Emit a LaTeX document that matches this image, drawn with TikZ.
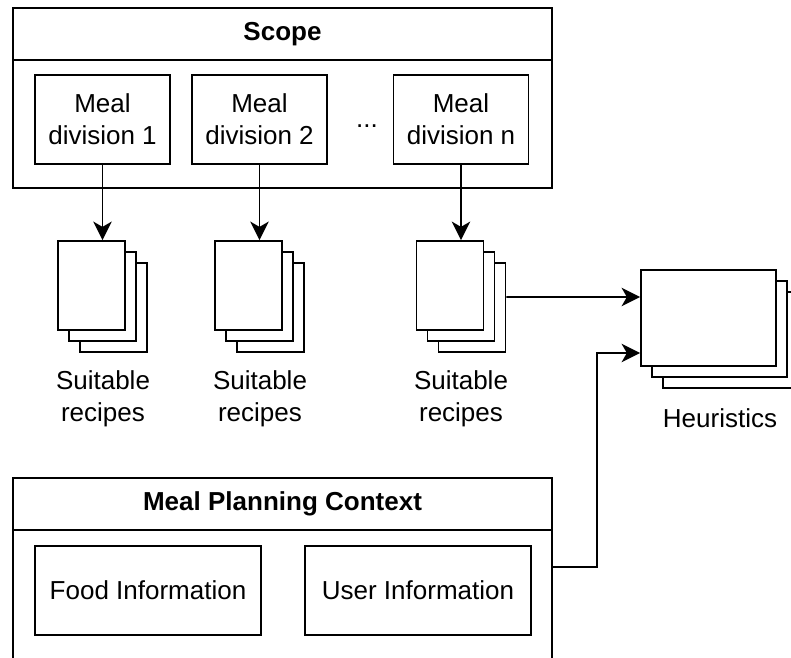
\documentclass[tikz,border=0pt]{standalone}
\usepackage{fontspec}
\setmainfont{Liberation Sans}
\usetikzlibrary{arrows.meta,shadows}

\begin{document}
\begin{tikzpicture}[x=0.02cm,y=-0.02cm,line width=1.1pt,
        every node/.style={font=\fontsize{14.8}{18.2}\selectfont},
        box/.style={draw,fill=white,align=center,inner sep=0pt},
        head/.style={box,minimum width=10.78cm,minimum height=1.04cm,font=\fontsize{14.8}{18.2}\selectfont\bfseries},
        body/.style={box,minimum width=10.78cm,minimum height=2.56cm},
        meal/.style={box,minimum width=2.7cm,minimum height=1.78cm},
        info/.style={box,minimum width=4.52cm,minimum height=1.78cm},
        stack/.style={box,
            copy shadow={shadow xshift=0.44cm,shadow yshift=-0.44cm,line width=1.1pt},
            copy shadow={shadow xshift=0.22cm,shadow yshift=-0.22cm,line width=1.1pt}},
        page/.style={stack,minimum width=1.34cm,minimum height=1.78cm},
        flow/.style={-{Stealth[length=10.5pt,width=10.5pt,inset=3pt]}}]
    \useasboundingbox (0,0) rectangle (791,657);

    \node[head] (scopehead) at (282.5,34) {Scope};
    \node[body] (scope) at (282.5,124) {};
    \node[meal] (div1) at (102.5,119.5) {Meal\\division 1};
    \node[meal] (div2) at (259.5,119.5) {Meal\\division 2};
    \node (dots) at (367,126) {...};
    \node[meal] (divn) at (461,119.5) {Meal\\division n};

    \node[page] (rec1) at (91.5,285.5) {};
    \node[page] (rec2) at (248.5,285.5) {};
    \node[page] (recn) at (450,285.5) {};
    \node[align=center] (lab1) at (103,399) {Suitable\\recipes};
    \node[align=center] (lab2) at (260,399) {Suitable\\recipes};
    \node[align=center] (labn) at (461,399) {Suitable\\recipes};

    \node[stack,minimum width=2.7cm,minimum height=1.92cm] (heur) at (708.5,318) {};
    \node (heurlab) at (720,418) {Heuristics};

    \node[head] (ctxhead) at (282.5,504) {Meal Planning Context};
    \node[body,minimum height=2.64cm] (ctx) at (282.5,596) {};
    \node[info] (food) at (148,590.5) {Food Information};
    \node[info] (user) at (418,590.5) {User Information};

    \coordinate (recout) at ([shift={(0.44cm,-0.23cm)}]recn.east);
    \coordinate (ctxout) at ([yshift=0.58cm]ctx.east);
    \coordinate (heurin1) at ([yshift=0.42cm]heur.west);
    \coordinate (heurin2) at ([yshift=-0.7cm]heur.west);

    \draw[flow] (div1.south) -- (div1.south |- rec1.north);
    \draw[flow] (div2.south) -- (div2.south |- rec2.north);
    \draw[flow] (divn.south) -- (divn.south |- recn.north);
    \draw[flow] (recout) -- (heurin1);
    \draw[flow] (ctxout) -- ++(0.88cm,0) |- (heurin2);
\end{tikzpicture}
\end{document}
